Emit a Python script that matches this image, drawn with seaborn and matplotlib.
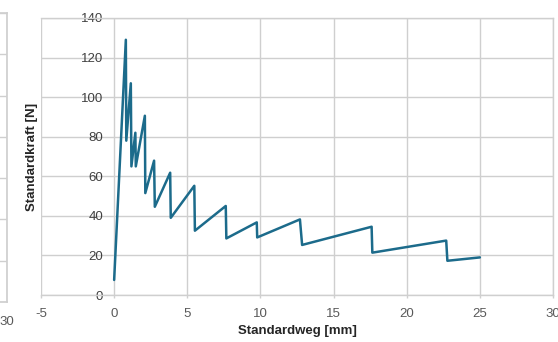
import numpy as np
import pandas as pd
import matplotlib
matplotlib.use("Agg")
import matplotlib.pyplot as plt
import seaborn as sns

# Standardweg [mm] / Standardkraft [N]
weg = [0.0, 0.80, 0.83, 1.14, 1.18, 1.45, 1.48, 2.10, 2.13, 2.73, 2.78,
       3.83, 3.87, 5.48, 5.52, 7.63, 7.67, 9.75, 9.78, 12.70, 12.85,
       17.60, 17.65, 22.70, 22.78, 25.00]
kraft = [7.6, 129.0, 78.0, 107.0, 65.0, 82.0, 65.0, 90.6, 51.5, 67.9, 44.6,
         61.8, 39.0, 55.2, 32.5, 45.0, 28.6, 36.7, 29.1, 38.2, 25.3,
         34.5, 21.4, 27.5, 17.3, 19.0]

x_ticks = [-5, 0, 5, 10, 15, 20, 25, 30]
y_ticks = [0, 20, 40, 60, 80, 100, 120, 140]

sns.set_theme(style="whitegrid")
plt.rcParams['font.family'] = ['Liberation Sans', 'DejaVu Sans']
plt.rcParams['axes.unicode_minus'] = False

W, H = 558, 342
fig = plt.figure(figsize=(W / 100, H / 100), dpi=100)
fig.patch.set_facecolor('white')

grid_col = '#cfcfcf'

# fragment of the neighbouring chart, cut off at the left edge
ax2 = fig.add_axes([-50 / W, (H - 302) / H, 57 / W, 289 / H])
ax2.set_xlim(20, 30)
ax2.set_ylim(0, 140)
ax2.set_xticks([30])
ax2.set_yticks(y_ticks)
ax2.set_yticklabels([])
ax2.grid(True, color=grid_col, linewidth=1.0)
for s in ax2.spines.values():
    s.set_color(grid_col)
ax2.tick_params(axis='x', length=0, pad=10, labelsize=9.5, labelcolor='#595959')
ax2.tick_params(axis='y', length=0)

# main chart
ax = fig.add_axes([41 / W, (H - 295) / H, 512 / W, 277 / H])
df = pd.DataFrame({'Standardweg': weg, 'Standardkraft': kraft})
sns.lineplot(data=df, x='Standardweg', y='Standardkraft', sort=False, estimator=None,
             color='#1c6b8b', linewidth=1.8, ax=ax)
ax.set_xlim(-5, 30)
ax.set_ylim(0, 140)
ax.set_xticks(x_ticks)
ax.set_yticks(y_ticks)
ax.grid(True, color=grid_col, linewidth=1.0)
for s in ax.spines.values():
    s.set_color(grid_col)
    s.set_linewidth(1.0)

# y tick labels sit next to the x=0 line (axis crosses at zero)
ax.spines['left'].set_position(('data', 0))
ax.spines['left'].set_visible(False)
ax.tick_params(axis='y', length=0, pad=8, labelsize=9.5, labelcolor='#404040')
ax.tick_params(axis='x', bottom=True, length=2.5, width=1.0, color=grid_col,
               pad=7, labelsize=9.5, labelcolor='#595959')

ax.set_xlabel('Standardweg [mm]', fontsize=9.5, fontweight='bold', color='#262626', va='center')
ax.xaxis.set_label_coords(0.5, (295 - 331) / 277)
ax.set_ylabel('Standardkraft [N]', fontsize=9.5, fontweight='bold', color='#262626', va='center')
ax.yaxis.set_label_coords((32 - 41) / 512, 0.5)

plt.savefig("out.png", dpi=100, facecolor='white')
